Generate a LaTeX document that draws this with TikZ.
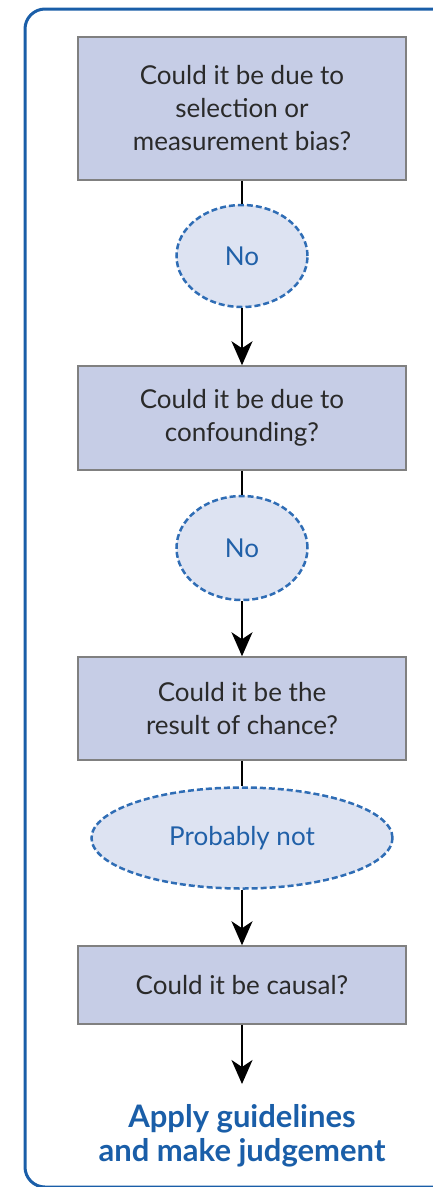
\documentclass[tikz,border=0pt]{standalone}
\usepackage{fontspec}
\setmainfont{Lato}
\usetikzlibrary{arrows.meta,shapes.geometric}
\definecolor{framebl}{HTML}{1A5EA8}
\definecolor{boxfill}{HTML}{C6CDE6}
\definecolor{boxline}{HTML}{808080}
\definecolor{ellfill}{HTML}{DDE3F2}
\definecolor{elldash}{HTML}{2F6DB5}
\definecolor{elltext}{HTML}{2060A8}
\definecolor{qtext}{HTML}{2A2A2A}
\tikzset{
  question/.style={draw=boxline, fill=boxfill, line width=1.5pt, minimum width=328pt,
    align=center, text=qtext, font=\fontsize{26}{33}\selectfont},
  answer/.style={ellipse, draw=elldash, fill=ellfill, line width=2.5pt, dash pattern=on 6pt off 3pt,
    inner sep=0pt, text=elltext, font=\fontsize{26}{33}\selectfont},
  link/.style={line width=2pt, black},
  flow/.style={link, -{Stealth[length=24pt,width=21pt,inset=7pt]}}
}
\begin{document}
\begin{tikzpicture}[x=1pt, y=-1pt]
    \useasboundingbox (0,0) rectangle (433,1187);
    \clip (0,0) rectangle (433,1187);

    % outer frame
    \draw[framebl, line width=3pt, rounded corners=20pt] (25,9) rectangle (480,1187);

    % questions and answers
    \node[question, minimum height=143pt] (q1) at (242,108.5) {Could it be due to\\selection or\\measurement bias?};
    \node[answer, minimum width=131pt, minimum height=102pt] (a1) at (242,256) {No};
    \node[question, minimum height=104pt] (q2) at (242,418) {Could it be due to\\confounding?};
    \node[answer, minimum width=131pt, minimum height=104pt] (a2) at (242,548) {No};
    \node[question, minimum height=103pt] (q3) at (242,708.5) {Could it be the\\result of chance?};
    \node[answer, minimum width=301pt, minimum height=101pt] (a3) at (242,838) {Probably not};
    \node[question, minimum height=78pt] (q4) at (242,985) {Could it be causal?};
    \coordinate (tip) at (242,1084);
    \node[align=center, text=framebl, font=\bfseries\fontsize{31}{34}\selectfont] (verdict) at (242,1136)
        {Apply guidelines\\and make judgement};

    % connectors
    \draw[link] (q1.south) -- (a1.north);
    \draw[flow] (a1.south) -- (q2.north);
    \draw[link] (q2.south) -- (a2.north);
    \draw[flow] (a2.south) -- (q3.north);
    \draw[link] (q3.south) -- (a3.north);
    \draw[flow] (a3.south) -- (q4.north);
    \draw[flow] (q4.south) -- (tip);
\end{tikzpicture}
\end{document}
